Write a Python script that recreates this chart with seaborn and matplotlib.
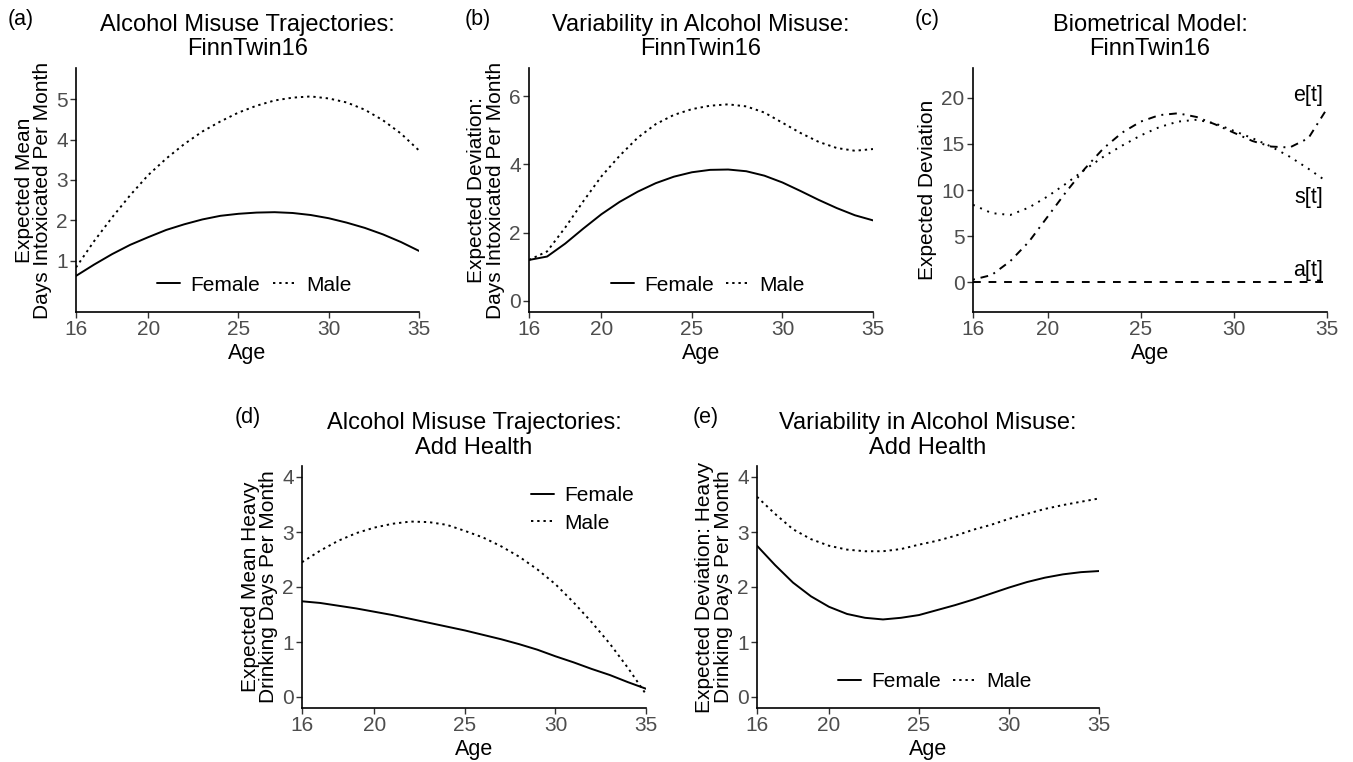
import numpy as np
import pandas as pd
import seaborn as sns
import matplotlib.pyplot as plt
from matplotlib.lines import Line2D

# --- data (value at each year of age) ---
ages = list(range(16, 36))

# (a) FinnTwin16: expected mean days intoxicated per month
ft_mean_female = [0.62, 0.90, 1.16, 1.39, 1.58, 1.76, 1.90, 2.02, 2.11, 2.16,
                  2.19, 2.20, 2.18, 2.13, 2.05, 1.94, 1.81, 1.65, 1.46, 1.24]
ft_mean_male = [0.83, 1.48, 2.07, 2.62, 3.12, 3.53, 3.89, 4.20, 4.45, 4.67,
                4.84, 4.97, 5.04, 5.07, 5.02, 4.92, 4.74, 4.48, 4.15, 3.73]

# (b) FinnTwin16: expected deviation
ft_sd_female = [1.20, 1.30, 1.68, 2.12, 2.54, 2.90, 3.20, 3.45, 3.64, 3.77,
                3.84, 3.85, 3.80, 3.67, 3.47, 3.22, 2.96, 2.72, 2.51, 2.36]
ft_sd_male = [1.20, 1.45, 2.15, 2.92, 3.65, 4.25, 4.78, 5.18, 5.45, 5.62,
              5.72, 5.76, 5.70, 5.52, 5.22, 4.92, 4.66, 4.48, 4.40, 4.45]

# (c) biometrical model components
bio_a = [0.0, 0.0, 0.0, 0.0, 0.0, 0.0, 0.0, 0.0, 0.0, 0.0,
         0.0, 0.0, 0.0, 0.0, 0.0, 0.0, 0.0, 0.0, 0.0, 0.0]
bio_s = [8.4, 7.5, 7.3, 8.1, 9.3, 10.7, 12.2, 13.6, 14.8, 15.9,
         16.8, 17.4, 17.6, 17.2, 16.4, 15.6, 14.7, 13.6, 12.3, 10.9]
bio_e = [0.3, 0.8, 2.3, 4.4, 7.1, 9.8, 12.3, 14.5, 16.2, 17.4,
         18.1, 18.3, 17.9, 17.1, 16.2, 15.3, 14.7, 14.6, 15.6, 18.8]

# (d) Add Health: expected mean heavy drinking days
ah_mean_female = [1.74, 1.71, 1.66, 1.61, 1.55, 1.49, 1.42, 1.35, 1.28, 1.21,
                  1.13, 1.05, 0.96, 0.86, 0.74, 0.63, 0.51, 0.40, 0.27, 0.15]
ah_mean_male = [2.45, 2.66, 2.84, 2.98, 3.08, 3.15, 3.19, 3.18, 3.13, 3.02,
                2.90, 2.74, 2.55, 2.32, 2.05, 1.72, 1.36, 0.97, 0.53, 0.05]

# (e) Add Health: expected deviation
ah_sd_female = [2.75, 2.40, 2.08, 1.83, 1.64, 1.51, 1.44, 1.41, 1.44, 1.49,
                1.58, 1.67, 1.77, 1.88, 1.99, 2.09, 2.17, 2.23, 2.27, 2.29]
ah_sd_male = [3.64, 3.33, 3.05, 2.87, 2.75, 2.68, 2.65, 2.65, 2.69, 2.77,
              2.84, 2.93, 3.04, 3.13, 3.24, 3.33, 3.42, 3.49, 3.55, 3.61]

x_ticks = [16, 20, 25, 30, 35]

FEMALE_LS = '-'
MALE_LS = (0, (1.2, 2.0))
S_LS = (0, (1, 3))
E_LS = (0, (1, 3, 4, 3))
A_LS = (0, (4, 4))
LW = 1.4

sns.set_style("ticks")
plt.rcParams['font.family'] = ['Liberation Sans', 'DejaVu Sans']
plt.rcParams['text.color'] = 'black'
plt.rcParams['axes.labelcolor'] = 'black'

fig = plt.figure(figsize=(13.53, 7.62), dpi=100)


def style_ax(ax, title, ylabel, yticks, ylim):
    sns.despine(ax=ax)
    for s in ['left', 'bottom']:
        ax.spines[s].set_linewidth(1.2)
        ax.spines[s].set_color('black')
    ax.set_xlim(16, 35)
    ax.set_xticks(x_ticks)
    ax.set_ylim(*ylim)
    ax.set_yticks(yticks)
    ax.tick_params(labelsize=15, labelcolor='#4d4d4d', color='#333333',
                   length=4, width=1, pad=2)
    ax.set_xlabel('Age', fontsize=15.5, labelpad=3)
    ax.set_ylabel(ylabel, fontsize=15, linespacing=0.95, labelpad=3)
    ax.set_title(title, fontsize=17, pad=9, linespacing=1.12, color='black')


def draw(ax, y, ls):
    sns.lineplot(x=ages, y=y, ax=ax, color='black', linewidth=LW, linestyle=ls)


def sex_handles():
    return [Line2D([], [], color='black', lw=LW, linestyle=FEMALE_LS),
            Line2D([], [], color='black', lw=LW, linestyle=MALE_LS)]


W, H = 1353, 762


def add_ax(left, top, right, bottom):
    return fig.add_axes([left / W, 1 - bottom / H, (right - left) / W, (bottom - top) / H])


def bottom_legend(ax):
    ax.legend(sex_handles(), ['Female', 'Male'], ncol=2, frameon=False, fontsize=15,
              loc='center', bbox_to_anchor=(0.52, 0.11), handlelength=1.1,
              handletextpad=0.5, columnspacing=0.6)


# (a)
ax_a = add_ax(76, 68, 419, 312)
draw(ax_a, ft_mean_female, FEMALE_LS)
draw(ax_a, ft_mean_male, MALE_LS)
style_ax(ax_a, 'Alcohol Misuse Trajectories:\nFinnTwin16',
         'Expected Mean\nDays Intoxicated Per Month', [1, 2, 3, 4, 5], (-0.275, 5.775))
bottom_legend(ax_a)

# (b)
ax_b = add_ax(529, 68, 873, 312)
draw(ax_b, ft_sd_female, FEMALE_LS)
draw(ax_b, ft_sd_male, MALE_LS)
style_ax(ax_b, 'Variability in Alcohol Misuse:\nFinnTwin16',
         'Expected Deviation:\nDays Intoxicated Per Month', [0, 2, 4, 6], (-0.325, 6.825))
bottom_legend(ax_b)

# (c)
ax_c = add_ax(973, 68, 1327, 312)
draw(ax_c, bio_a, A_LS)
draw(ax_c, bio_s, S_LS)
draw(ax_c, bio_e, E_LS)
style_ax(ax_c, 'Biometrical Model:\nFinnTwin16', 'Expected Deviation',
         [0, 5, 10, 15, 20], (-3.2, 23.2))
for lab, yv in [('e[t]', 20.2), ('s[t]', 9.2), ('a[t]', 1.3)]:
    ax_c.text(34.8, yv, lab, ha='right', va='center', fontsize=15.5, color='black')

# (d)
ax_d = add_ax(302, 466, 646, 708)
draw(ax_d, ah_mean_female, FEMALE_LS)
draw(ax_d, ah_mean_male, MALE_LS)
style_ax(ax_d, 'Alcohol Misuse Trajectories:\nAdd Health',
         'Expected Mean Heavy\nDrinking Days Per Month', [0, 1, 2, 3, 4], (-0.2, 4.2))
ax_d.legend(sex_handles(), ['Female', 'Male'], ncol=1, frameon=False, fontsize=15,
            loc='center left', bbox_to_anchor=(0.61, 0.82), handlelength=1.1,
            handletextpad=0.5, labelspacing=0.4)

# (e)
ax_e = add_ax(757, 466, 1099, 708)
draw(ax_e, ah_sd_female, FEMALE_LS)
draw(ax_e, ah_sd_male, MALE_LS)
style_ax(ax_e, 'Variability in Alcohol Misuse:\nAdd Health',
         'Expected Deviation: Heavy\nDrinking Days Per Month', [0, 1, 2, 3, 4], (-0.2, 4.2))
bottom_legend(ax_e)

# panel tags
for tag, px, py in [('(a)', 8, 20), ('(b)', 465, 20), ('(c)', 915, 20),
                    ('(d)', 235, 417), ('(e)', 693, 417)]:
    fig.text(px / W, 1 - py / H, tag, fontsize=15.5, va='center', ha='left')

fig.savefig('out.png', dpi=100)
